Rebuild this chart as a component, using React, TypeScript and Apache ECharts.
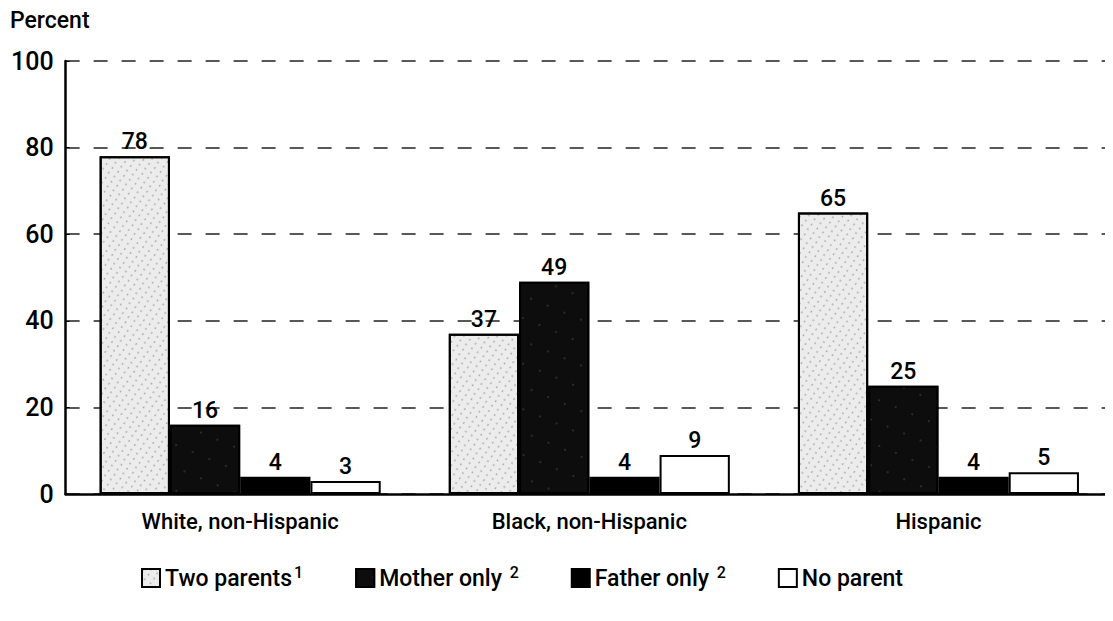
import React, { useEffect, useRef } from "react";
import * as echarts from "echarts";

const categories = ["White, non-Hispanic", "Black, non-Hispanic", "Hispanic"];
const twoParents = [78, 37, 65];
const motherOnly = [16, 49, 25];
const fatherOnly = [4, 4, 4];
const noParent = [3, 9, 5];
const yTicks = [0, 20, 40, 60, 80, 100];

const FONT = "Roboto";

export default function App() {
  const ref = useRef<HTMLDivElement>(null);
  useEffect(() => {
    const chart = echarts.init(ref.current!, null, { renderer: "svg" });
    const label = {
      show: true,
      position: "top" as const,
      distance: 3,
      color: "#000",
      fontFamily: FONT,
      fontSize: 23,
      fontWeight: 500,
    };
    const border = { borderColor: "#000", borderWidth: 2 };
    chart.setOption({
      animation: false,
      backgroundColor: "#fff",
      grid: { left: 55, top: 53, width: 1053, height: 433 },
      graphic: [
        {
          type: "text",
          left: 2,
          top: 1,
          style: { text: "Percent", font: `500 23px ${FONT}`, fill: "#000" },
        },
      ],
      legend: {
        top: 551,
        left: 128,
        itemWidth: 18,
        itemHeight: 18,
        itemGap: 52,
        icon: "rect",
        textStyle: {
          fontFamily: FONT,
          fontSize: 23,
          color: "#000",
          rich: {
            a: { fontFamily: FONT, fontSize: 23, fontWeight: 500, color: "#000" },
            s: { fontFamily: FONT, fontSize: 16, fontWeight: 500, color: "#000", verticalAlign: "top", padding: [0, 0, 12, 2] },
          },
        },
        formatter: (name: string) => {
          if (name === "Two parents") return "{a|Two parents}{s|1}";
          if (name === "Mother only") return "{a|Mother only }{s|2}";
          if (name === "Father only") return "{a|Father only }{s|2}";
          return "{a|" + name + "}";
        },
        data: ["Two parents", "Mother only", "Father only", "No parent"],
      },
      xAxis: {
        type: "category",
        data: categories,
        axisLine: { lineStyle: { color: "#000", width: 2.5 } },
        axisTick: { show: false },
        axisLabel: { color: "#000", fontFamily: FONT, fontSize: 22, fontWeight: 500, margin: 16 },
      },
      yAxis: {
        type: "value",
        min: 0,
        max: 100,
        interval: 20,
        axisLine: { show: true, lineStyle: { color: "#000", width: 2.5 } },
        axisTick: { show: true, length: 4, inside: true, lineStyle: { color: "#000" } },
        axisLabel: {
          color: "#000",
          fontFamily: FONT,
          fontSize: 25,
          fontWeight: 500,
          margin: 12,
          formatter: (v: number) => (yTicks.includes(v) ? String(v) : ""),
        },
        splitLine: { show: true, lineStyle: { color: "#222", type: [14, 14], width: 1.5 } },
      },
      series: [
        {
          name: "Two parents",
          type: "bar",
          data: twoParents,
          barGap: "0%",
          barCategoryGap: "19.5%",
          label,
          itemStyle: {
            color: "#ececec",
            ...border,
            decal: {
              symbol: "circle",
              symbolSize: 0.7,
              color: "rgba(0,0,0,0.45)",
              dashArrayX: [[2, 5], [3, 4]],
              dashArrayY: [2, 4],
              rotation: 0.6,
            },
          },
        },
        {
          name: "Mother only",
          type: "bar",
          data: motherOnly,
          label,
          itemStyle: {
            color: "#0d0d0d",
            ...border,
            decal: {
              symbol: "circle",
              symbolSize: 0.6,
              color: "rgba(255,255,255,0.35)",
              dashArrayX: [2, 16],
              dashArrayY: [2, 19],
              rotation: 0.4,
            },
          },
        },
        {
          name: "Father only",
          type: "bar",
          data: fatherOnly,
          label,
          itemStyle: { color: "#000", ...border },
        },
        {
          name: "No parent",
          type: "bar",
          data: noParent,
          label,
          itemStyle: { color: "#fff", ...border },
        },
      ],
    });
    return () => chart.dispose();
  }, []);
  return <div ref={ref} style={{ width: 1105, height: 613 }} />;
}
